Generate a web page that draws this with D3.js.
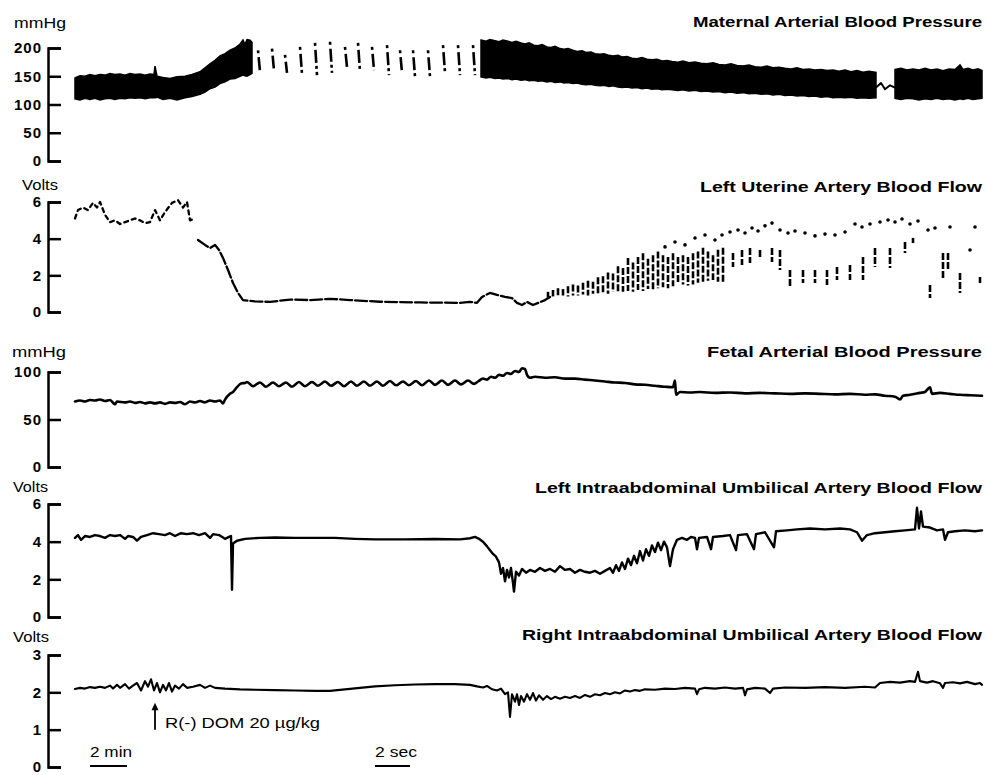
<!DOCTYPE html>
<html lang="en">
<head>
<meta charset="UTF-8">
<title>Maternal and Fetal Haemodynamic Recording</title>
<style>
  body { margin: 0; background: #fff; }
  svg { display: block; font-family: "Liberation Sans", Arial, sans-serif; }
  .axis path, .axis line { stroke: #000; stroke-width: 2.5; }
  .axis text { font-size: 15px; font-weight: bold; fill: #000; letter-spacing: 1px; font-family: "Liberation Sans", Arial, sans-serif; }
  .title { font-size: 14px; font-weight: bold; text-anchor: end; fill: #000; }
  .unit { font-size: 15px; fill: #000; }
  .trace { fill: none; stroke: #000; stroke-linejoin: round; stroke-linecap: round; }
  .note { font-size: 15px; fill: #000; }
</style>
</head>
<body>
<svg id="chart" width="987" height="775"></svg>
<script src="https://d3js.org/d3.v7.min.js"></script>
<script>
// ---- data (position along the chart paper, value) ----
const titles = [
  "Maternal Arterial Blood Pressure",
  "Left Uterine Artery Blood Flow",
  "Fetal Arterial Blood Pressure",
  "Left Intraabdominal Umbilical Artery Blood Flow",
  "Right Intraabdominal Umbilical Artery Blood Flow"
];
const units = ["mmHg", "Volts", "mmHg", "Volts", "Volts"];
const mbpTicks = [0, 50, 100, 150, 200];
const uterineTicks = [0, 2, 4, 6];
const fbpTicks = [0, 50, 100];
const leftUmbTicks = [0, 2, 4, 6];
const rightUmbTicks = [0, 1, 2, 3];

// maternal pressure envelope [pos, systolic, diastolic]
const maternalBand1 = [[0,147,110],[5,151,108],[10,150,111],[15,153,109],[20,151,111],[25,153,108],[30,152,110],[35,155,111],[40,153,109],[45,154,111],[50,152,110],[55,155,112],[60,153,111],[65,154,112],[70,152,110],[75,154,112],[79,153,112],[80,168,112],[82,150,113],[88,148,109],[95,146,111],[102,149,108],[110,150,112],[117,153,114],[125,158,118],[130,165,122],[135,172,128],[140,178,131],[145,186,137],[150,190,140],[155,196,145],[160,200,146],[165,207,150],[168,214,152],[170,206,151],[172,215,150],[175,214,153],[177,210,155]];
// fast paper speed: single beats [pos, systolic, diastolic]
const maternalBeats = [[183,196,158],[197,199,160],[210,188,156],[225,202,154],[240,209,152],[255,211,156],[270,202,166],[283,209,158],[297,202,161],[312,205,152],[325,196,156],[338,196,149],[353,196,149],[368,205,156],[383,205,152],[398,205,152]];
const maternalBand2 = [[406,214,149],[411,212,147],[415,215,148],[420,213,146],[424,211,147],[428,214,145],[433,212,146],[437,210,144],[441,212,145],[446,209,143],[450,207,144],[454,209,142],[459,205,143],[463,204,141],[467,206,142],[472,202,140],[476,201,141],[480,203,139],[485,199,140],[489,198,138],[493,199,139],[498,196,137],[502,194,138],[507,195,136],[511,192,135],[516,193,136],[520,190,134],[525,189,133],[529,190,134],[534,187,132],[538,186,133],[543,187,131],[547,184,130],[552,185,131],[557,182,129],[562,181,130],[567,183,128],[572,180,129],[577,179,127],[582,180,128],[587,177,126],[592,178,127],[597,176,126],[603,175,125],[608,177,126],[614,174,124],[620,175,125],[626,173,123],[632,172,124],[638,174,122],[644,171,123],[650,170,121],[656,172,122],[662,169,120],[668,168,121],[674,170,119],[680,167,120],[686,166,118],[692,168,119],[698,165,117],[704,166,118],[710,164,116],[716,163,117],[722,165,115],[728,162,116],[734,163,114],[740,161,115],[746,162,113],[752,160,114],[758,161,112],[764,159,113],[770,161,112],[776,158,113],[782,160,111],[788,157,112],[794,159,111],[801,157,112]];
const maternalGap = [[801,130],[806,138],[810,127],[815,134],[820,130]];
const maternalBand3 = [[820,162,111],[826,164,109],[832,161,111],[838,163,110],[844,161,108],[850,164,110],[856,161,109],[862,163,111],[868,160,109],[874,163,110],[880,162,108],[885,170,110],[888,162,109],[893,164,111],[898,161,109],[903,163,110],[907,160,111]];

// left uterine flow
const uterineEarly = [[0,5.1],[3,5.56],[8,5.7],[13,5.56],[18,5.95],[22,5.7],[25,6.0],[30,5.3],[35,4.9],[40,5.0],[45,4.8],[50,4.9],[55,5.0],[60,5.1],[65,5.0],[70,4.85],[75,4.9],[80,5.56],[85,5.0],[90,5.45],[97,5.95],[103,6.1],[108,5.7],[112,6.0],[115,5.0],[120,5.1]];
const uterineMain = [[123,3.93],[130,3.66],[135,3.49],[140,3.66],[144,3.38],[148,2.95],[153,2.29],[158,1.58],[163,1.04],[168,0.65],[180,0.58],[195,0.55],[215,0.68],[235,0.65],[255,0.72],[275,0.65],[305,0.56],[345,0.52],[385,0.5],[395,0.55],[402,0.5],[407,0.82],[415,1.04],[422,0.93],[430,0.82],[437,0.76],[442,0.5],[447,0.38],[452,0.55],[458,0.38],[470,0.65],[475,0.82]];
// pulsatile recovery: [pos, peak, trough]
const uterineBeats = [[473,1.1,0.8],[478,1.2,0.85],[483,1.3,0.8],[488,1.25,0.9],[493,1.4,0.85],[498,1.5,0.9],[503,1.45,0.9],[508,1.6,0.95],[513,1.7,0.9],[518,1.65,1.0],[523,1.9,1.0],[528,1.95,1.05],[533,2.15,1.0],[538,2.1,1.1],[543,2.5,1.05],[548,2.4,1.1],[553,2.95,1.15],[558,2.7,1.1],[563,3.0,1.2],[568,3.2,1.15],[573,2.9,1.25],[578,3.1,1.2],[583,3.3,1.3],[588,3.1,1.35],[593,3.0,1.3],[598,3.2,1.4],[603,3.0,1.55],[608,3.1,1.5],[613,3.0,1.45],[618,3.2,1.5],[623,3.3,1.6],[628,3.5,1.65],[633,3.3,1.7],[638,3.1,1.75],[643,3.4,1.65],[648,3.5,1.65],[658,3.22,2.45],[667,3.38,2.56],[675,3.49,2.67],[685,3.38,2.95],[697,3.49,2.73],[705,3.38,2.29],[715,2.29,1.36],[728,2.29,1.58],[740,2.29,1.58],[752,2.29,1.47],[762,2.45,1.75],[775,2.56,1.75],[788,3.0,1.75],[800,3.49,2.45],[815,3.49,2.4],[830,3.82,3.22],[838,4.04,3.76],[855,1.47,0.76],[868,3.22,1.75],[873,3.22,2.29],[885,2.13,1.04],[905,1.91,1.58]];
const uterinePeaks = [[590,3.55],[600,3.82],[610,3.66],[620,4.04],[630,4.2],[640,3.93],[647,4.2],[655,4.36],[663,4.47],[670,4.31],[677,4.58],[683,4.42],[690,4.7],[697,4.85],[705,4.47],[713,4.31],[720,4.42],[730,4.31],[740,4.15],[750,4.25],[760,4.2],[770,4.36],[780,4.8],[787,4.64],[795,4.8],[805,4.91],[813,5.02],[820,4.91],[827,5.07],[835,4.8],[843,4.96],[853,4.47],[860,4.58],[875,4.64],[895,3.38],[900,4.64]];

// fetal arterial pressure
const fetalBP = [[0,69],[5,70],[10,69],[15,70.5],[20,70],[25,71],[30,69.5],[35,70.5],[40,66],[42,69],[50,68],[55,69],[60,67.5],[65,68.5],[70,67],[75,68],[80,67],[85,68],[90,66.5],[95,68],[100,67.5],[105,68.5],[110,66],[115,69],[120,68],[125,69.5],[130,68],[135,70],[140,69],[145,70],[148,67],[150,71],[155,77],[158,79],[162,84],[166,88],[170,88.5],[172,89.5],[178,85],[185,89],[191,84.5],[198,89],[204,85],[211,89],[217,84.5],[224,89.5],[230,85],[237,89.5],[243,85.5],[250,90],[256,85.5],[263,89.5],[269,85],[276,90],[282,85.5],[289,90],[295,85.5],[302,90],[308,85.5],[315,90.5],[321,86],[328,90],[334,86],[341,90.5],[347,86],[354,91],[360,86.5],[367,91],[373,86.5],[380,91],[386,87],[393,91],[399,87.5],[403,90],[408,93],[412,92],[416,95],[420,94],[424,97],[428,96],[432,99],[436,98],[440,101],[444,100],[447,104],[450,103],[452,97],[455,94],[460,95],[470,94],[480,94.5],[490,93],[500,93],[510,92],[520,91],[530,90],[540,89],[550,88.5],[560,87],[570,86.5],[580,85.5],[590,84.5],[598,84],[600,91],[601,76],[605,79],[615,78.5],[625,79],[640,78],[655,78.5],[670,77.5],[685,78],[700,77.5],[715,77],[730,77.5],[745,77],[760,76.5],[775,77],[790,76],[800,76.5],[810,75],[820,74],[825,71],[828,75],[835,76],[845,78],[850,79],[855,84],[857,77],[865,78],[875,77],[885,76],[895,75.5],[907,75]];

// left intraabdominal umbilical flow
const leftUmb = [[0,4.2],[3,4.35],[6,4.1],[10,4.3],[15,4.25],[20,4.35],[25,4.3],[30,4.2],[35,4.35],[40,4.3],[45,4.35],[50,4.15],[53,4.3],[58,4.25],[62,4.05],[66,4.25],[72,4.35],[78,4.45],[84,4.4],[90,4.35],[95,4.45],[100,4.3],[106,4.45],[112,4.4],[118,4.45],[124,4.35],[130,4.45],[135,4.2],[138,4.4],[144,4.35],[150,4.15],[154,4.25],[156,4.3],[157,1.45],[158,3.9],[162,4.05],[170,4.15],[185,4.2],[200,4.22],[220,4.2],[245,4.2],[260,4.2],[280,4.15],[300,4.12],[330,4.12],[360,4.14],[385,4.12],[395,4.18],[400,4.25],[404,4.15],[408,4.0],[412,3.75],[415,3.55],[418,3.35],[421,3.2],[424,2.9],[426,2.3],[428,2.6],[430,1.9],[432,2.5],[434,2.1],[436,2.6],[438,1.8],[439,1.35],[441,2.4],[444,2.2],[447,2.55],[451,2.35],[455,2.5],[460,2.4],[465,2.6],[470,2.45],[475,2.55],[480,2.4],[485,2.7],[490,2.5],[495,2.55],[500,2.35],[505,2.5],[510,2.4],[515,2.35],[520,2.45],[525,2.3],[530,2.45],[535,2.6],[538,2.35],[541,2.75],[544,2.45],[547,2.9],[550,2.55],[553,3.1],[556,2.75],[559,3.25],[562,2.85],[565,3.5],[568,3.0],[571,3.6],[574,3.25],[577,3.8],[580,3.45],[583,3.95],[586,3.55],[589,4.0],[592,3.7],[595,2.7],[598,3.6],[602,4.1],[607,4.2],[612,4.1],[616,4.25],[620,4.2],[622,3.6],[624,4.2],[632,4.25],[636,3.6],[638,4.25],[648,4.3],[655,4.35],[661,3.55],[663,4.35],[672,4.4],[679,3.6],[681,4.4],[690,4.5],[699,3.7],[701,4.55],[712,4.6],[722,4.65],[735,4.7],[750,4.65],[765,4.7],[775,4.65],[782,4.5],[787,4.05],[792,4.35],[800,4.45],[810,4.5],[820,4.55],[830,4.6],[840,4.65],[842,5.8],[844,4.7],[846,5.6],[848,4.8],[855,4.75],[862,4.6],[868,4.65],[870,4.1],[873,4.5],[880,4.55],[890,4.6],[900,4.55],[907,4.6]];

// right intraabdominal umbilical flow
const rightUmb = [[0,2.09],[5,2.12],[10,2.1],[15,2.14],[20,2.12],[25,2.15],[30,2.12],[35,2.18],[38,2.1],[42,2.2],[45,2.12],[50,2.22],[54,2.1],[58,2.18],[62,2.25],[66,2.05],[70,2.3],[73,2.15],[76,2.35],[79,2.05],[82,2.25],[85,2.0],[88,2.2],[91,2.05],[94,2.25],[97,2.02],[100,2.18],[104,2.1],[108,2.22],[112,2.12],[118,2.15],[125,2.2],[130,2.12],[135,2.18],[140,2.12],[150,2.1],[165,2.08],[180,2.07],[200,2.06],[220,2.05],[240,2.04],[255,2.04],[270,2.08],[285,2.12],[300,2.16],[320,2.19],[340,2.21],[360,2.22],[380,2.22],[395,2.2],[402,2.16],[408,2.13],[412,2.17],[417,2.08],[422,2.05],[426,2.1],[430,1.95],[433,2.0],[435,1.34],[437,1.95],[440,1.75],[442,1.95],[444,1.66],[446,1.9],[449,1.75],[452,1.95],[455,1.8],[458,1.98],[461,1.78],[464,1.92],[468,1.8],[472,1.9],[476,1.82],[480,1.88],[485,1.83],[490,1.88],[495,1.85],[500,1.9],[505,1.85],[510,1.93],[515,1.88],[520,1.95],[525,1.92],[530,1.98],[535,1.95],[540,2.0],[545,1.97],[550,2.05],[555,2.02],[560,2.06],[565,2.04],[570,2.08],[580,2.07],[590,2.1],[600,2.09],[610,2.12],[620,2.1],[622,1.95],[624,2.08],[630,2.12],[640,2.1],[650,2.13],[660,2.1],[668,2.12],[670,1.92],[672,2.08],[680,2.12],[690,2.1],[695,1.98],[698,2.1],[710,2.13],[730,2.12],[750,2.14],[770,2.12],[790,2.15],[800,2.13],[805,2.25],[815,2.28],[825,2.26],[835,2.3],[840,2.28],[843,2.55],[845,2.3],[852,2.26],[858,2.3],[865,2.24],[868,2.12],[870,2.25],[878,2.27],[885,2.24],[892,2.28],[900,2.22],[905,2.25],[907,2.2]];

// drug injection marker and time bars
const injection = { pos: 80, label: "R(-) DOM 20 \u00b5g/kg" };
const timeBars = [{ from: 15, to: 52, label: "2 min" }, { from: 300, to: 335, label: "2 sec" }];

// ---- layout ----
const W = 987, H = 775;
const svg = d3.select("#chart");
svg.append("rect").attr("width", W).attr("height", H).attr("fill", "#fff");

const x = d3.scaleLinear().domain([0, 907]).range([75, 982]);
const axisX = 48;

const panels = [
  { max: 200, ticks: mbpTicks, top: 48, bottom: 161, titleY: 27, titleW: 289, unitX: 14, unitY: 28, unitW: 52 },
  { max: 6, ticks: uterineTicks, top: 202, bottom: 312, titleY: 192, titleW: 282, unitX: 22, unitY: 190, unitW: 36 },
  { max: 100, ticks: fbpTicks, top: 372, bottom: 467, titleY: 357, titleW: 275, unitX: 12, unitY: 357, unitW: 54 },
  { max: 6, ticks: leftUmbTicks, top: 504, bottom: 617, titleY: 493, titleW: 447, unitX: 13, unitY: 492, unitW: 35 },
  { max: 3, ticks: rightUmbTicks, top: 655, bottom: 767, titleY: 640, titleW: 460, unitX: 13, unitY: 642, unitW: 36 }
];

panels.forEach((p, i) => {
  p.y = d3.scaleLinear().domain([0, p.max]).range([p.bottom, p.top]);
  svg.append("g")
    .attr("class", "axis")
    .attr("transform", `translate(${axisX},0)`)
    .call(d3.axisLeft(p.y).tickValues(p.ticks).tickSize(-13).tickPadding(6).tickFormat(d3.format("d")));
  svg.append("text").attr("class", "unit").attr("x", p.unitX).attr("y", p.unitY)
    .attr("textLength", p.unitW).attr("lengthAdjust", "spacingAndGlyphs")
    .text(units[i]);
  svg.append("text").attr("class", "title")
    .attr("x", 982).attr("y", p.titleY)
    .attr("textLength", p.titleW).attr("lengthAdjust", "spacingAndGlyphs")
    .text(titles[i]);
});

const [pM, pU, pF, pL, pR] = panels;

// maternal pressure: solid envelope where paper is slow, single strokes where fast
const band = d3.area().x(d => x(d[0])).y0(d => pM.y(d[2])).y1(d => pM.y(d[1]));
[maternalBand1, maternalBand2, maternalBand3].forEach(b => {
  svg.append("path").datum(b).attr("d", band).attr("fill", "#000").attr("stroke", "#000").attr("stroke-width", 1.5);
});
svg.append("path").datum(maternalGap).attr("class", "trace").attr("stroke-width", 2)
  .attr("d", d3.line().x(d => x(d[0])).y(d => pM.y(d[1])));
svg.selectAll(".mbeat").data(maternalBeats).join("line")
  .attr("class", "mbeat")
  .attr("x1", d => x(d[0])).attr("x2", d => x(d[0]) + 2)
  .attr("y1", d => pM.y(d[1])).attr("y2", d => pM.y(d[2]))
  .attr("stroke", "#000").attr("stroke-width", 2.6)
  .attr("stroke-dasharray", "3,4,13,3,3");

// uterine flow
const lineU = d3.line().x(d => x(d[0])).y(d => pU.y(d[1]));
svg.append("path").datum(uterineEarly).attr("class", "trace").attr("stroke-width", 2.3)
  .attr("stroke-dasharray", "4,4").attr("d", lineU);
svg.append("path").datum(uterineMain).attr("class", "trace").attr("stroke-width", 2.3)
  .attr("stroke-dasharray", "12,3").attr("d", lineU);
svg.selectAll(".ubeat").data(uterineBeats).join("line")
  .attr("class", "ubeat")
  .attr("x1", d => x(d[0])).attr("x2", d => x(d[0]))
  .attr("y1", d => pU.y(d[1])).attr("y2", d => pU.y(d[2]))
  .attr("stroke", "#000").attr("stroke-width", 2.6)
  .attr("stroke-dasharray", "7,2");
svg.selectAll(".upeak").data(uterinePeaks).join("circle")
  .attr("class", "upeak")
  .attr("cx", d => x(d[0])).attr("cy", d => pU.y(d[1])).attr("r", 1.8).attr("fill", "#000");

// fetal pressure and umbilical flows
svg.append("path").datum(fetalBP).attr("class", "trace").attr("stroke-width", 2.6)
  .attr("d", d3.line().curve(d3.curveMonotoneX).x(d => x(d[0])).y(d => pF.y(d[1])));
svg.append("path").datum(leftUmb).attr("class", "trace").attr("stroke-width", 2.4)
  .attr("d", d3.line().x(d => x(d[0])).y(d => pL.y(d[1])));
svg.append("path").datum(rightUmb).attr("class", "trace").attr("stroke-width", 2.1)
  .attr("d", d3.line().x(d => x(d[0])).y(d => pR.y(d[1])));

// injection arrow
const ax = x(injection.pos);
svg.append("line").attr("x1", ax).attr("x2", ax)
  .attr("y1", pR.y(1.0)).attr("y2", pR.y(1.62))
  .attr("stroke", "#000").attr("stroke-width", 1.8);
svg.append("path")
  .attr("d", `M${ax},${pR.y(1.72)}L${ax - 3.5},${pR.y(1.52)}L${ax + 3.5},${pR.y(1.52)}Z`)
  .attr("fill", "#000");
svg.append("text").attr("class", "note").attr("x", ax + 10).attr("y", 728)
  .attr("textLength", 155).attr("lengthAdjust", "spacingAndGlyphs")
  .text(injection.label);

// time scale bars
timeBars.forEach(b => {
  svg.append("text").attr("class", "note").attr("x", x(b.from)).attr("y", 757)
    .attr("textLength", 42).attr("lengthAdjust", "spacingAndGlyphs").text(b.label);
  svg.append("line").attr("x1", x(b.from)).attr("x2", x(b.to)).attr("y1", 766).attr("y2", 766)
    .attr("stroke", "#000").attr("stroke-width", 2);
});
</script>
</body>
</html>
